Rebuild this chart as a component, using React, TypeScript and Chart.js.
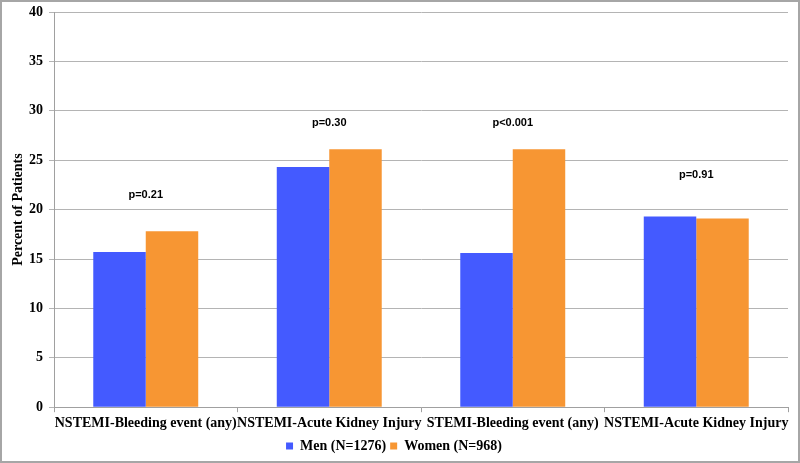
import React, { useEffect, useRef } from "react";
import { Chart, registerables } from "chart.js";

Chart.register(...registerables);

const categories = [
  "NSTEMI-Bleeding event (any)",
  "NSTEMI-Acute Kidney Injury",
  "STEMI-Bleeding event (any)",
  "NSTEMI-Acute Kidney Injury",
];
const menValues = [15.7, 24.3, 15.6, 19.3];
const womenValues = [17.8, 26.1, 26.1, 19.1];
const pLabels = ["p=0.21", "p=0.30", "p<0.001", "p=0.91"];
const pLabelY = [21.5, 28.8, 28.8, 23.5];
const yTicks = [0, 5, 10, 15, 20, 25, 30, 35, 40];

const serif = "'Liberation Serif', 'Times New Roman', serif";
const sans = "'Liberation Sans', Arial, sans-serif";

const pPlugin = {
  id: "pLabels",
  afterDatasetsDraw(chart: any) {
    const { ctx, scales } = chart;
    ctx.save();
    ctx.font = `bold 11px ${sans}`;
    ctx.fillStyle = "#000";
    ctx.textAlign = "center";
    ctx.textBaseline = "middle";
    pLabels.forEach((t, i) => {
      const x = scales.x.getPixelForValue(i);
      const y = scales.y.getPixelForValue(pLabelY[i]);
      ctx.fillText(t, x, y);
    });
    ctx.restore();
  },
};

const framePlugin = {
  id: "frame",
  beforeDraw(chart: any) {
    const { ctx, width, height } = chart;
    ctx.save();
    ctx.fillStyle = "#fff";
    ctx.fillRect(0, 0, width, height);
    ctx.restore();
  },
  afterDraw(chart: any) {
    const { ctx, width, height } = chart;
    ctx.save();
    ctx.strokeStyle = "#a6a6a6";
    ctx.lineWidth = 2;
    ctx.strokeRect(1, 1, width - 2, height - 2);
    ctx.restore();
  },
};

export default function App() {
  const ref = useRef<HTMLCanvasElement | null>(null);
  useEffect(() => {
    document.body.style.margin = "0";
    if (!ref.current) return;
    const chart = new Chart(ref.current, {
      type: "bar",
      data: {
        labels: categories,
        datasets: [
          {
            label: "Men (N=1276)",
            data: menValues,
            backgroundColor: "#445AFF",
          },
          {
            label: "Women (N=968)",
            data: womenValues,
            backgroundColor: "#F79633",
          },
        ],
      },
      options: {
        animation: false,
        responsive: false,
        maintainAspectRatio: false,
        layout: { padding: { left: 0, right: 12, top: 12, bottom: 0 } },
        datasets: {
          bar: { categoryPercentage: 0.572, barPercentage: 1 },
        },
        plugins: {
          legend: {
            position: "bottom",
            labels: {
              font: { family: serif, size: 14, weight: "bold" },
              color: "#000",
              boxWidth: 7,
              boxHeight: 7,
              padding: 4,
            },
          },
          tooltip: { enabled: false },
        },
        scales: {
          x: {
            grid: {
              offset: true,
              drawOnChartArea: false,
              drawTicks: true,
              tickLength: 5,
              color: "#a0a0a0",
            },
            border: { color: "#a0a0a0" },
            ticks: {
              font: { family: serif, size: 14, weight: "bold" },
              color: "#000",
              maxRotation: 0,
              autoSkip: false,
              padding: 3,
            },
          },
          y: {
            min: 0,
            max: 40,
            afterBuildTicks(scale: any) {
              scale.ticks = yTicks.map((v) => ({ value: v }));
            },
            afterFit(scale: any) {
              scale.width = 54;
              scale.paddingTop = 0;
              scale.paddingBottom = 0;
            },
            grid: {
              color: "#b4b4b4",
              tickLength: 5,
            },
            border: { color: "#a0a0a0" },
            ticks: {
              font: { family: serif, size: 14, weight: "bold" },
              color: "#000",
              padding: 6,
            },
            title: {
              display: true,
              text: "Percent of Patients",
              font: { family: serif, size: 14, weight: "bold" },
              color: "#000",
              padding: { top: 10, bottom: 0 },
            },
          },
        },
      },
      plugins: [pPlugin, framePlugin],
    });
    return () => chart.destroy();
  }, []);
  return (
    <div style={{ width: 800, height: 463 }}>
      <canvas ref={ref} width={800} height={463} style={{ width: 800, height: 463, display: "block" }} />
    </div>
  );
}
